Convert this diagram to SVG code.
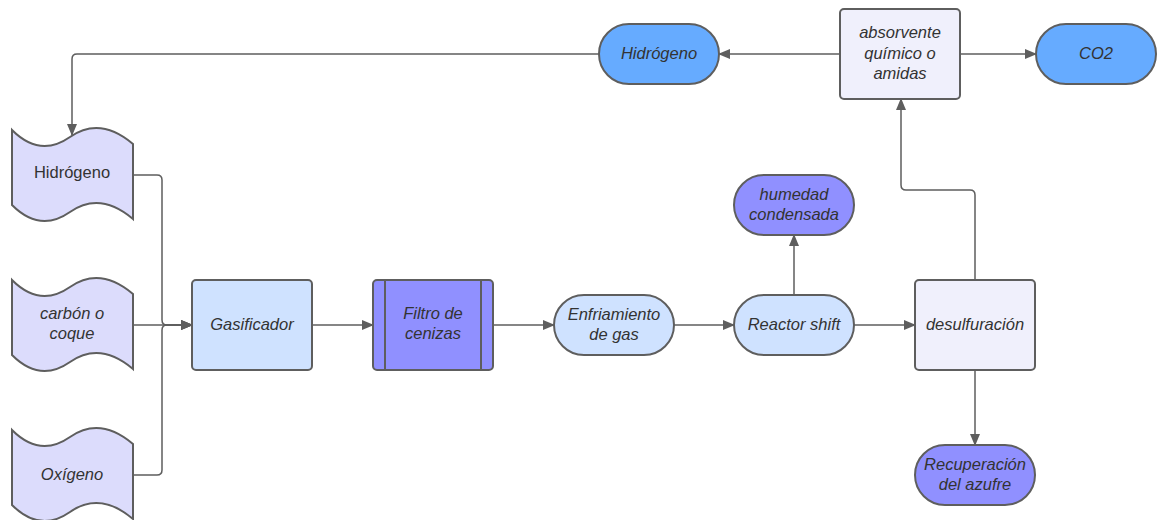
<svg xmlns="http://www.w3.org/2000/svg" width="1160" height="520" viewBox="0 0 1160 520">
<defs>
<marker id="arr" viewBox="0 0 12 10" refX="11" refY="5" markerWidth="12" markerHeight="10" markerUnits="userSpaceOnUse" orient="auto">
<path d="M0,0 L12,5 L0,10 Z" fill="#5e5e5e"/>
</marker>
<style>
.n{stroke:#5e5e5e;stroke-width:2}
.tape{fill:#dcdcfc}
.lb{fill:#cfe2ff}
.pu{fill:#9090ff}
.pa{fill:#f0f0fc}
.bl{fill:#66abff}
.t{font-family:"Liberation Sans",Arial,sans-serif;font-size:16.5px;fill:#333333;text-anchor:middle;font-style:italic}
.up{font-style:normal}
.c{fill:none;stroke:#5e5e5e;stroke-width:1.5;marker-end:url(#arr)}
</style>
</defs>
<rect width="1160" height="520" fill="#ffffff"/>
<g id="connectors">
<path class="c" d="M133,175 H157 Q162,175 162,180 V320 Q162,325 167,325 H192"/>
<path class="c" d="M133,325 H192"/>
<path class="c" d="M133,475 H157 Q162,475 162,470 V330 Q162,325 167,325 H192"/>
<path class="c" d="M312,325 H373"/>
<path class="c" d="M493,325 H554"/>
<path class="c" d="M674,325 H734"/>
<path class="c" d="M794,295 V235"/>
<path class="c" d="M854,325 H915"/>
<path class="c" d="M975,370 V445"/>
<path class="c" d="M975,280 V195 Q975,190 970,190 H906 Q901,190 901,185 V99"/>
<path class="c" d="M840,54 H719"/>
<path class="c" d="M960,54 H1036"/>
<path class="c" d="M599,54 H77 Q72,54 72,59 V135"/>
</g>
<g id="n-hidrogeno-in">
<path class="n tape" d="M12,130 Q40,158 70,137 T133,144 V219 Q100,191 70,212 Q40,233 12,205 Z"/>
<text class="t up" x="72" y="178">Hidrógeno</text>
</g>
<g id="n-carbon">
<path class="n tape" d="M12,280 Q40,308 70,287 T133,294 V369 Q100,341 70,362 Q40,383 12,355 Z"/>
<text class="t" x="72" y="319">carbón o</text>
<text class="t" x="72" y="339">coque</text>
</g>
<g id="n-oxigeno">
<path class="n tape" d="M12,430 Q40,458 70,437 T133,444 V519 Q100,491 70,512 Q40,533 12,505 Z"/>
<text class="t" x="72" y="480">Oxígeno</text>
</g>
<g id="n-gasificador">
<rect class="n lb" x="192" y="280" width="120" height="90" rx="4"/>
<text class="t" x="252" y="330">Gasificador</text>
</g>
<g id="n-filtro">
<rect class="n pu" x="373" y="280" width="120" height="90" rx="4"/>
<line class="n" x1="385" y1="280" x2="385" y2="370"/>
<line class="n" x1="481" y1="280" x2="481" y2="370"/>
<text class="t" x="433" y="319">Filtro de</text>
<text class="t" x="433" y="339">cenizas</text>
</g>
<g id="n-enfriamiento">
<rect class="n lb" x="554" y="295" width="120" height="60" rx="30"/>
<text class="t" x="614" y="320">Enfriamiento</text>
<text class="t" x="614" y="340">de gas</text>
</g>
<g id="n-reactor">
<rect class="n lb" x="734" y="295" width="120" height="60" rx="30"/>
<text class="t" x="794" y="330">Reactor shift</text>
</g>
<g id="n-humedad">
<rect class="n pu" x="734" y="175" width="120" height="60" rx="30"/>
<text class="t" x="794" y="200">humedad</text>
<text class="t" x="794" y="220">condensada</text>
</g>
<g id="n-desulfuracion">
<rect class="n pa" x="915" y="280" width="120" height="90" rx="4"/>
<text class="t" x="975" y="330">desulfuración</text>
</g>
<g id="n-recuperacion">
<rect class="n pu" x="915" y="445" width="120" height="60" rx="30"/>
<text class="t" x="975" y="470">Recuperación</text>
<text class="t" x="975" y="490">del azufre</text>
</g>
<g id="n-absorvente">
<rect class="n pa" x="840" y="9" width="120" height="90" rx="4"/>
<text class="t" x="900" y="38">absorvente</text>
<text class="t" x="900" y="59">químico o</text>
<text class="t" x="900" y="79">amidas</text>
</g>
<g id="n-hidrogeno-out">
<rect class="n bl" x="599" y="24" width="120" height="60" rx="30"/>
<text class="t" x="659" y="59">Hidrógeno</text>
</g>
<g id="n-co2">
<rect class="n bl" x="1036" y="24" width="120" height="60" rx="30"/>
<text class="t" x="1096" y="59">CO2</text>
</g>
</svg>
